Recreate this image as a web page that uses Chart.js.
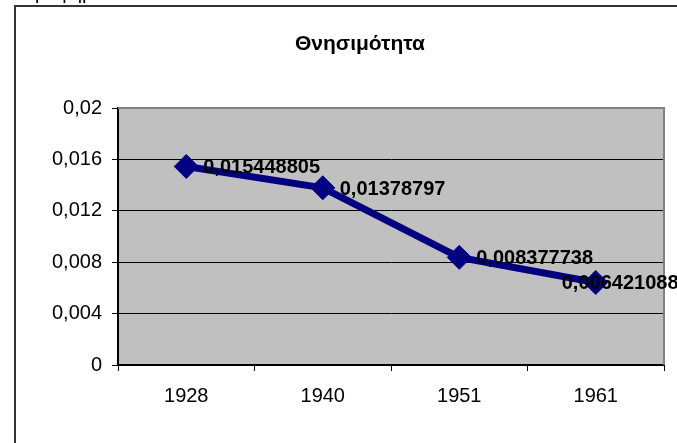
<!DOCTYPE html>
<html>
<head>
<meta charset="utf-8">
<script src="https://cdn.jsdelivr.net/npm/chart.js@4/dist/chart.umd.min.js"></script>
<style>
  body { margin: 0; background: #fff; }
  canvas { display: block; }
</style>
</head>
<body>
<canvas id="chart" width="677" height="443"></canvas>
<script>
// data
const years = ['1928', '1940', '1951', '1961'];
const mortality = [0.015448805, 0.01378797, 0.008377738, 0.006421088];
const mortalityText = ['0,015448805', '0,01378797', '0,008377738', '0,006421088'];
const chartTitle = 'Θνησιμότητα';
const topCaption = 'Γράφημα';

const FONT = '"Liberation Sans", Arial, sans-serif';

// grey plot area, outer frame, title
let framePlugin = {
  id: 'frame',
  beforeDraw(chart) {
    const ctx = chart.ctx;
    const a = chart.chartArea;
    ctx.save();
    ctx.fillStyle = '#fff';
    ctx.fillRect(0, 0, chart.width, chart.height);

    // cut-off caption above the frame
    ctx.fillStyle = '#000';
    ctx.font = '20px ' + FONT;
    ctx.textBaseline = 'alphabetic';
    ctx.fillText(topCaption, 24, -1);

    // outer frame
    ctx.strokeStyle = '#333';
    ctx.lineWidth = 2;
    ctx.beginPath();
    ctx.moveTo(15, chart.height + 5);
    ctx.lineTo(15, 6);
    ctx.lineTo(chart.width + 5, 6);
    ctx.stroke();

    ctx.fillStyle = '#c0c0c0';
    ctx.fillRect(a.left, a.top, a.right - a.left, a.bottom - a.top);

    ctx.fillStyle = '#000';
    ctx.font = 'bold 21px ' + FONT;
    ctx.textAlign = 'center';
    ctx.fillText(chartTitle, 360, 50);
    ctx.restore();
  },
  beforeDatasetsDraw(chart) {
    const ctx = chart.ctx;
    const a = chart.chartArea;
    ctx.save();
    ctx.strokeStyle = '#808080';
    ctx.lineWidth = 2;
    ctx.beginPath();
    ctx.moveTo(a.left, a.top);
    ctx.lineTo(a.right, a.top);
    ctx.lineTo(a.right, a.bottom);
    ctx.stroke();
    ctx.restore();
  }
};

// value labels next to the markers
let labelPlugin = {
  id: 'valueLabels',
  afterDatasetsDraw(chart) {
    const ctx = chart.ctx;
    const pts = chart.getDatasetMeta(0).data;
    const dx = [17, 17, 17, -34];
    ctx.save();
    ctx.fillStyle = '#000';
    ctx.font = 'bold 20px ' + FONT;
    ctx.textBaseline = 'alphabetic';
    pts.forEach((p, i) => {
      ctx.fillText(mortalityText[i], p.x + dx[i], p.y + 7);
    });
    ctx.restore();
  }
};

let myChart = new Chart(document.getElementById('chart'), {
  type: 'line',
  data: {
    labels: years,
    datasets: [{
      label: chartTitle,
      data: mortality,
      borderColor: '#000080',
      backgroundColor: '#000080',
      borderWidth: 7,
      tension: 0,
      fill: false,
      pointStyle: 'rectRot',
      pointRadius: 12,
      pointBorderWidth: 1,
      pointBackgroundColor: '#000080',
      pointBorderColor: '#000080'
    }]
  },
  options: {
    responsive: false,
    animation: false,
    layout: { padding: { top: 108, right: 12, left: 0, bottom: 0 } },
    plugins: {
      legend: { display: false },
      title: { display: false },
      tooltip: { enabled: false }
    },
    scales: {
      x: {
        offset: true,
        afterFit(scale) { scale.height = 78; },
        grid: {
          offset: true,
          drawOnChartArea: false,
          tickLength: 6,
          tickColor: '#000',
          color: '#000'
        },
        border: { display: true, color: '#000', width: 2 },
        ticks: {
          color: '#000',
          padding: 13,
          maxRotation: 0,
          font: { size: 20, family: FONT }
        }
      },
      y: {
        min: 0,
        max: 0.02,
        afterFit(scale) { scale.width = 118; },
        grid: {
          color: c => (c.tick && c.tick.value >= 0.0199 ? '#808080' : '#000'),
          lineWidth: 1,
          tickLength: 6,
          tickColor: '#000'
        },
        border: { display: true, color: '#000', width: 2 },
        ticks: {
          stepSize: 0.004,
          color: '#000',
          padding: 10,
          font: { size: 20, family: FONT },
          callback: v => parseFloat(v.toFixed(3)).toString().replace('.', ',')
        }
      }
    }
  },
  plugins: [framePlugin, labelPlugin]
});
</script>
</body>
</html>
